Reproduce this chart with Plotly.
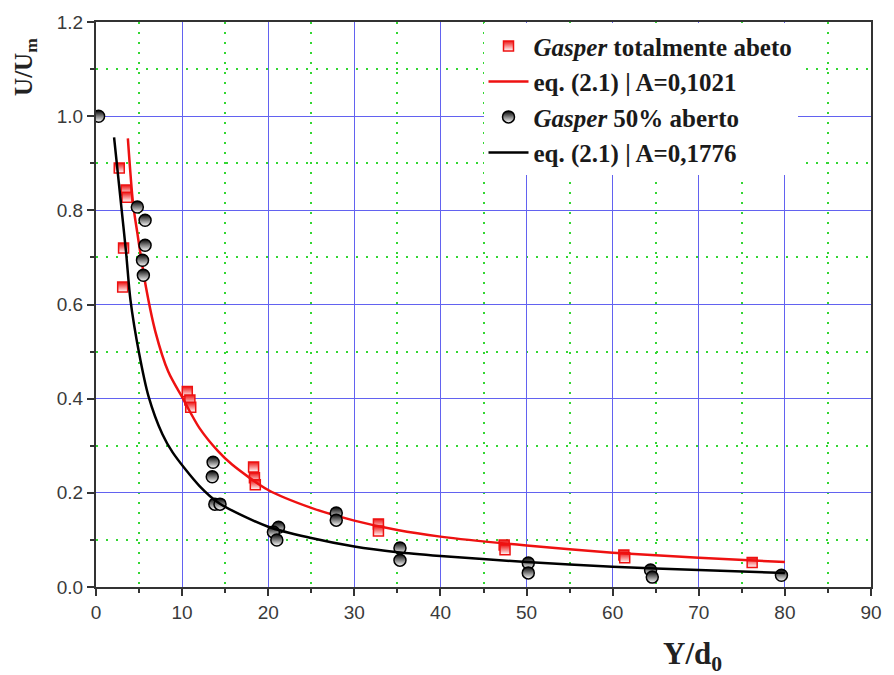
import plotly.graph_objects as go

# Measured points
red_x = [2.7, 3.5, 3.6, 3.2, 3.1, 10.6, 10.9, 11.0, 18.3, 18.4, 18.5, 32.8, 32.8, 47.4, 47.5, 61.3, 61.4, 76.2]
red_y = [0.89, 0.843, 0.828, 0.72, 0.637, 0.415, 0.397, 0.382, 0.255, 0.232, 0.217, 0.134, 0.119, 0.089, 0.079, 0.068, 0.062, 0.052]

blk_x = [0.3, 4.8, 5.7, 5.7, 5.4, 5.5, 13.6, 13.5, 13.8, 14.4, 21.2, 20.6, 21.0, 27.9, 27.9, 35.3, 35.3, 50.2, 50.2, 64.4, 64.6, 79.6]
blk_y = [1.0, 0.807, 0.779, 0.726, 0.694, 0.662, 0.265, 0.234, 0.176, 0.176, 0.127, 0.117, 0.100, 0.157, 0.142, 0.083, 0.057, 0.051, 0.030, 0.036, 0.021, 0.025]

# Fitted curves
red_fit_x = [3.7, 4.3, 4.8, 5.8, 6.9, 8.4, 10.1, 12.0, 14.2, 15.8, 20, 25, 30, 35, 40, 50, 60, 70, 80]
red_fit_y = [0.953, 0.815, 0.752, 0.637, 0.542, 0.457, 0.400, 0.338, 0.288, 0.260, 0.206, 0.168, 0.141, 0.121, 0.107, 0.088, 0.073, 0.062, 0.053]

blk_fit_x = [2.1, 2.9, 3.5, 4.0, 5.0, 6.1, 7.7, 8.9, 12.0, 14.3, 20, 25, 30, 35, 40, 50, 60, 70, 80]
blk_fit_y = [0.955, 0.815, 0.709, 0.610, 0.497, 0.405, 0.325, 0.286, 0.215, 0.178, 0.128, 0.104, 0.086, 0.074, 0.066, 0.053, 0.043, 0.036, 0.030]

names = ["<b><i>Gasper</i> totalmente abeto</b>", "<b>eq. (2.1) | A=0,1021</b>",
         "<b><i>Gasper</i> 50% aberto</b>", "<b>eq. (2.1) | A=0,1776</b>"]

RED = "#ee1111"
fig = go.Figure()
fig.add_trace(go.Scatter(x=red_x, y=red_y, mode="markers", name=names[0],
                         marker=dict(symbol="square", size=10, color=RED,
                                     gradient=dict(type="vertical", color="white"),
                                     line=dict(color=RED, width=1.5))))
fig.add_trace(go.Scatter(x=red_fit_x, y=red_fit_y, mode="lines", name=names[1],
                         line=dict(color=RED, width=2.5, shape="spline", smoothing=0.8)))
fig.add_trace(go.Scatter(x=blk_x, y=blk_y, mode="markers", name=names[2],
                         marker=dict(symbol="circle", size=12, color="black",
                                     gradient=dict(type="vertical", color="white"),
                                     line=dict(color="black", width=1.5))))
fig.add_trace(go.Scatter(x=blk_fit_x, y=blk_fit_y, mode="lines", name=names[3],
                         line=dict(color="black", width=2.5, shape="spline", smoothing=0.8)))

tickfont = dict(family="Liberation Sans, Arial", size=19, color="#3a3a3a")
BLUE = "#6262f0"
GREEN = "#33d633"

fig.update_xaxes(range=[0, 90], dtick=10, tick0=0, showgrid=True, gridcolor=BLUE, gridwidth=1.3,
                 ticks="outside", ticklen=7, tickwidth=2, tickcolor="#333",
                 showline=True, linecolor="#333", linewidth=2, mirror=True,
                 zeroline=False, tickfont=tickfont,
                 minor=dict(dtick=5, showgrid=True, gridcolor=GREEN, griddash="2px,8px", gridwidth=1.6,
                            ticks="outside", ticklen=4, tickwidth=2, tickcolor="#333"))
fig.update_yaxes(range=[0, 1.2], dtick=0.2, tick0=0, tickformat=".1f", showgrid=True, gridcolor=BLUE,
                 gridwidth=1.3, ticks="outside", ticklen=7, tickwidth=2, tickcolor="#333",
                 showline=True, linecolor="#333", linewidth=2, mirror=True,
                 zeroline=False, tickfont=tickfont,
                 minor=dict(dtick=0.1, showgrid=True, gridcolor=GREEN, griddash="2px,8px", gridwidth=1.6,
                            ticks="outside", ticklen=4, tickwidth=2, tickcolor="#333"))

fig.update_layout(
    width=894, height=675,
    margin=dict(l=96, r=17, t=22, b=88),
    paper_bgcolor="white", plot_bgcolor="white",
    showlegend=True,
    legend=dict(x=0.5, y=0.998, xanchor="left", yanchor="top",
                bgcolor="white", borderwidth=0,
                font=dict(family="Liberation Serif, Times New Roman", size=25, color="#1a1a1a"),
                itemwidth=40, tracegroupgap=0),
    annotations=[
        dict(text="<b>U/U<sub>m</sub></b>", textangle=-90, xref="paper", yref="paper",
             x=-0.092, y=0.92, xanchor="center", yanchor="middle", showarrow=False,
             font=dict(family="Liberation Serif, Times New Roman", size=25, color="#222")),
        dict(text="<b>Y/d<sub>0</sub></b>", xref="paper", yref="paper",
             x=0.77, y=-0.122, xanchor="center", yanchor="middle", showarrow=False,
             font=dict(family="Liberation Serif, Times New Roman", size=31, color="#222")),
    ],
)

fig.write_html("out.html")
